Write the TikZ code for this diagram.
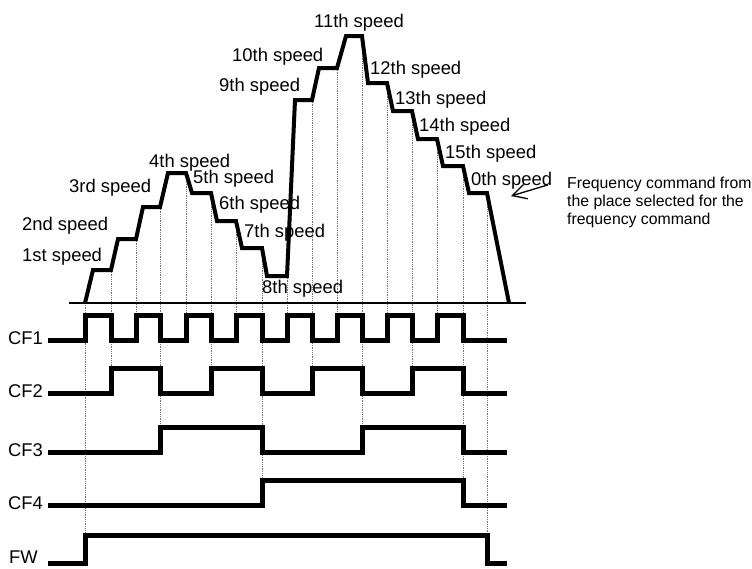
\documentclass[tikz,border=0pt]{standalone}
\usepackage{fontspec}
\setmainfont{Liberation Sans}
\usepackage{tikz}
\usetikzlibrary{positioning,arrows.meta,calc}

\begin{document}
\begin{tikzpicture}[
    x=1pt, y=-1pt,
    speedlbl/.style={anchor=base west, inner sep=0pt, font=\fontsize{18.4}{22}\selectfont},
    siglbl/.style={anchor=east, inner sep=0pt, font=\fontsize{18.4}{22}\selectfont},
    note/.style={anchor=base west, inner sep=0pt, align=left, font=\fontsize{15.8}{18}\selectfont},
    wave/.style={line width=5pt},
    profile/.style={line width=4pt},
    guide/.style={line width=0.8pt, densely dotted, black!55},
    pointer/.style={line width=1.3pt, -{Straight Barb[length=14pt, width=15pt, line width=1.3pt]}},
  ]
  \useasboundingbox (0,0) rectangle (752,568);

  % Guide lines (x / top / bottom)
  \foreach \x/\top/\bot in {85/303/535, 111/270/368, 136/239/315, 160/207/427,
      186/173/315, 211/193/368, 236/221/315, 262/248/480, 287/276/315,
      312/100/368, 337/68/315, 362/36/427, 387/83/315, 412/111/368,
      437/139/315, 463/166/480, 487/193/535}
    \draw[guide] (\x,\top) -- (\x,\bot);

  % Axis
  \draw[line width=1.8pt] (69,303) -- (526,303);

  % Speed profile
  \draw[profile] (85,303) -- (93,270) -- (111,270) -- (118,239) -- (136,239)
    -- (143,207) -- (160,207) -- (168,173) -- (186,173) -- (192,193)
    -- (211,193) -- (217,221) -- (236,221) -- (242,248) -- (262,248)
    -- (267,276) -- (287,276) -- (295,100) -- (312,100) -- (319,68)
    -- (337,68) -- (346,36) -- (362,36) -- (368,83) -- (387,83)
    -- (393,111) -- (412,111) -- (418,139) -- (437,139) -- (443,166)
    -- (463,166) -- (469,193) -- (487,193) -- (509,303);

  % Speed labels
  \node[speedlbl] (s1) at (22,261) {1st speed};
  \node[speedlbl] (s2) at (22,230) {2nd speed};
  \node[speedlbl] (s3) at (69,192) {3rd speed};
  \node[speedlbl] (s4) at (149,167) {4th speed};
  \node[speedlbl] (s5) at (193,183) {5th speed};
  \node[speedlbl] (s6) at (219,209) {6th speed};
  \node[speedlbl] (s7) at (244,237) {7th speed};
  \node[speedlbl] (s8) at (262,293) {8th speed};
  \node[speedlbl] (s9) at (219,91) {9th speed};
  \node[speedlbl] (s10) at (232,61) {10th speed};
  \node[speedlbl] (s11) at (314,27) {11th speed};
  \node[speedlbl] (s12) at (370,74) {12th speed};
  \node[speedlbl] (s13) at (395,104) {13th speed};
  \node[speedlbl] (s14) at (419,131) {14th speed};
  \node[speedlbl] (s15) at (445,158) {15th speed};
  \node[speedlbl] (s0) at (471,185) {0th speed};

  % Annotation
  \node[note] (anno) at (567,224.5) {Frequency command from\\the place selected for the\\frequency command};
  \coordinate (cmd) at (511,196);
  \draw[pointer] ([xshift=-19pt,yshift=-8pt]anno.north west) -- (cmd);

  % Input signals
  \node[siglbl] (cf1) at (43,338) {CF1};
  \node[siglbl] (cf2) at (43,391) {CF2};
  \node[siglbl] (cf3) at (43,450) {CF3};
  \node[siglbl] (cf4) at (43,503) {CF4};
  \node[siglbl] (fw) at (38,557) {FW};

  \draw[wave] (48,340) -| (85,315) -| (111,340) -| (136,315) -| (160,340)
    -| (186,315) -| (211,340) -| (236,315) -| (262,340) -| (287,315)
    -| (312,340) -| (337,315) -| (362,340) -| (387,315) -| (412,340)
    -| (437,315) -| (463,340) -- (507,340);
  \draw[wave] (48,393) -| (111,368) -| (160,393) -| (211,368) -| (262,393)
    -| (312,368) -| (362,393) -| (412,368) -| (463,393) -- (507,393);
  \draw[wave] (48,452) -| (160,427) -| (262,452) -| (362,427) -| (463,452) -- (507,452);
  \draw[wave] (48,505) -| (262,480) -| (463,505) -- (507,505);
  \draw[wave] (48,563) -| (85,535) -| (487,563) -- (507,563);
\end{tikzpicture}
\end{document}
